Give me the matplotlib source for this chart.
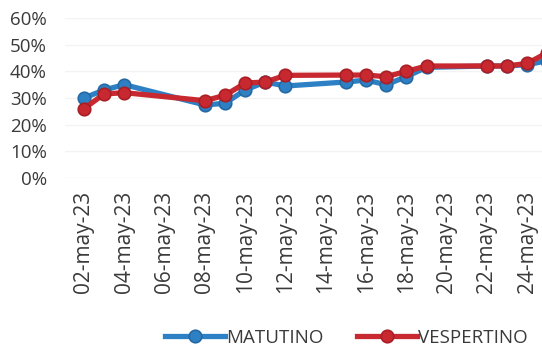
import numpy as np
import matplotlib
matplotlib.use('Agg')
import matplotlib.pyplot as plt

# dias de mayo 2023 con registro
dias = [2, 3, 4, 8, 9, 10, 11, 12, 15, 16, 17, 18, 19, 22, 23, 24, 25]
matutino = [0.30, 0.33, 0.35, 0.274, 0.28, 0.33, 0.36, 0.345, 0.36, 0.367, 0.35, 0.38, 0.415, 0.42, 0.42, 0.425, 0.44]
vespertino = [0.26, 0.315, 0.32, 0.29, 0.31, 0.356, 0.36, 0.385, 0.386, 0.386, 0.38, 0.40, 0.42, 0.42, 0.42, 0.43, 0.47]

tick_dias = [2, 4, 6, 8, 10, 12, 14, 16, 18, 20, 22, 24]
tick_labels = ['%02d-may-23' % d for d in tick_dias]

AZUL = '#2e80c4'
ROJO = '#c8282f'

plt.rcParams['font.family'] = ['Open Sans', 'DejaVu Sans']

fig = plt.figure(figsize=(5.42, 3.52), dpi=100)
ax = fig.add_axes([65/542, 174/352, 477/542, 160/352])

l1, = ax.plot(dias, matutino, color=AZUL, lw=3.8, marker='o', ms=9,
              mfc=AZUL, mec='#2569a3', mew=1.2, label='MATUTINO', zorder=3)
l2, = ax.plot(dias, vespertino, color=ROJO, lw=3.8, marker='o', ms=9,
              mfc=ROJO, mec='#a81f25', mew=1.2, label='VESPERTINO', zorder=4)

ax.set_xlim(1.06, 24.73)
ax.set_ylim(0, 0.6)
ax.set_yticks(np.arange(0, 0.61, 0.1))
ax.set_yticklabels(['%d%%' % round(v * 100) for v in np.arange(0, 0.61, 0.1)])
ax.set_xticks(tick_dias)
ax.set_xticklabels(tick_labels, rotation=90)
ax.tick_params(axis='both', length=0, colors='#3a3a3a')
ax.tick_params(axis='x', pad=9, labelsize=15)
ax.tick_params(axis='y', pad=13, labelsize=13.5)

ax.grid(axis='y', color='#f3f3f3', lw=1)
ax.set_axisbelow(True)
for s in ax.spines.values():
    s.set_visible(False)

leg = fig.legend(handles=[l1, l2], loc='center', bbox_to_anchor=(346/542, 14/352),
                 ncol=2, frameon=False, fontsize=13.5, handlelength=3.2,
                 columnspacing=1.8, handletextpad=0.05, borderpad=0)
for t in leg.get_texts():
    t.set_color('#3a3a3a')

fig.savefig('out.png', dpi=100)
